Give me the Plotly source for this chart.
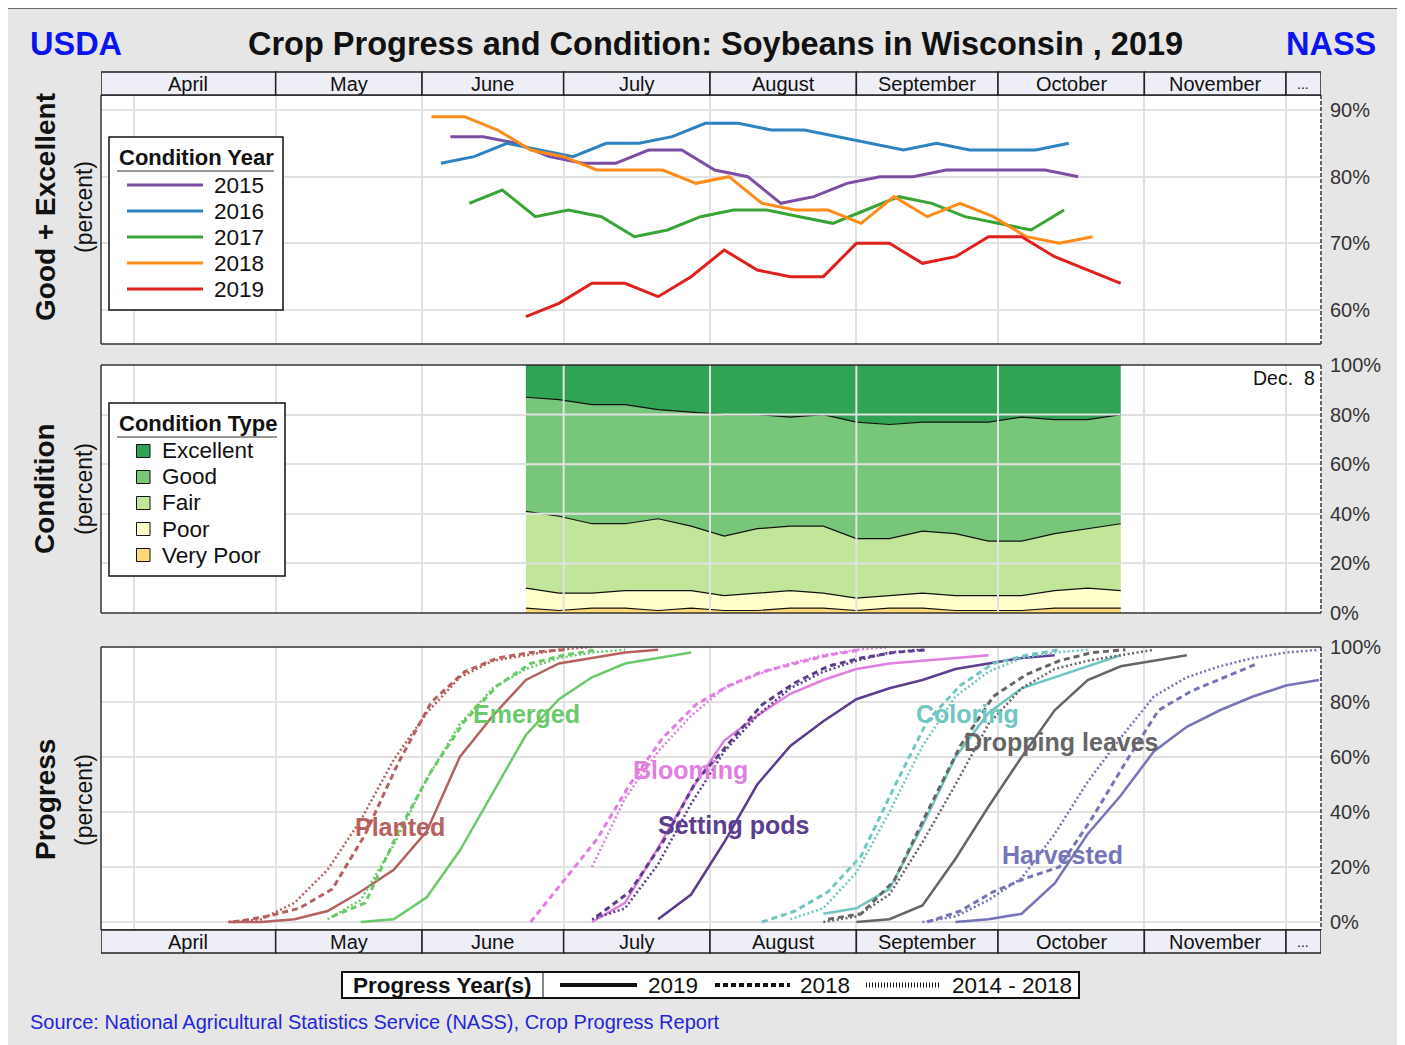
import plotly.graph_objects as go
import pandas as pd

W, H = 1405, 1045
OFF = 8  # page body margin offset compensation
FONT = "Liberation Sans, Arial, sans-serif"

# ---------------- data ----------------
MONTH_LABELS = ["April", "May", "June", "July", "August", "September", "October", "November", "..."]
MONTH_EDGES = ["2019-03-25 00:00", "2019-05-01 00:00", "2019-06-01 00:00", "2019-07-01 00:00", "2019-08-01 00:00",
               "2019-09-01 00:00", "2019-10-01 00:00", "2019-11-01 00:00", "2019-12-01 00:00", "2019-12-08 10:00"]
GRID_DATES = ["2019-04-01", "2019-05-01", "2019-06-01", "2019-07-01", "2019-08-01",
              "2019-09-01", "2019-10-01", "2019-11-01", "2019-12-01"]

GE_YEARS = ["2015", "2016", "2017", "2018", "2019"]
GE_STARTS = ["2015-06-07", "2016-06-05", "2017-06-11", "2018-06-03", "2019-06-23"]
GE_2015 = [86, 86, 85, 83, 82, 82, 84, 84, 81, 80, 76, 77, 79, 80, 80, 81, 81, 81, 81, 80]
GE_2016 = [82, 83, 85, 84, 83, 85, 85, 86, 88, 88, 87, 87, 86, 85, 84, 85, 84, 84, 84, 85]
GE_2017 = [76, 78, 74, 75, 74, 71, 72, 74, 75, 75, 74, 73, 75, 77, 76, 74, 73, 72, 75]
GE_2018 = [89, 89, 87, 84, 83, 81, 81, 81, 79, 80, 76, 75, 75, 73, 77, 74, 76, 74, 71, 70, 71]
GE_2019 = [59, 61, 64, 64, 62, 65, 69, 66, 65, 65, 70, 70, 67, 68, 71, 71, 68, 66, 64]

COND_START = "2019-06-23"
COND_TYPES = ["Excellent", "Good", "Fair", "Poor", "Very Poor"]
COND_EXCELLENT = [13, 14, 16, 16, 18, 19, 20, 20, 21, 20, 23, 24, 23, 23, 23, 21, 22, 22, 20]
COND_GOOD = [46, 47, 48, 48, 44, 46, 49, 46, 44, 45, 47, 46, 44, 45, 48, 50, 46, 44, 44]
COND_FAIR = [31, 31, 28, 27, 29, 26, 24, 26, 26, 27, 24, 23, 25, 25, 22, 22, 23, 24, 27]
COND_POOR = [8, 7, 6, 7, 8, 7, 6, 7, 7, 6, 5, 5, 6, 6, 6, 6, 7, 8, 7]
COND_VPOOR = [2, 1, 2, 2, 1, 2, 1, 1, 2, 2, 1, 2, 2, 1, 1, 1, 2, 2, 2]

STAGES = ["Planted", "Emerged", "Blooming", "Setting pods", "Coloring", "Dropping leaves", "Harvested"]
PROG_YEARS = ["2019", "2018", "2014 - 2018"]

PLANTED_2019_START, PLANTED_2019 = "2019-04-21", [0, 0, 1, 4, 11, 19, 33, 60, 75, 88, 94, 96, 98, 99]
PLANTED_2018_START, PLANTED_2018 = "2018-04-22", [0, 2, 5, 12, 32, 58, 80, 91, 96, 98, 99]
PLANTED_AVG_START, PLANTED_AVG = "2019-04-21", [0, 1, 7, 19, 37, 59, 76, 89, 95, 97, 99, 100]

EMERGED_2019_START, EMERGED_2019 = "2019-05-19", [0, 1, 9, 26, 47, 68, 81, 89, 94, 96, 98]
EMERGED_2018_START, EMERGED_2018 = "2018-05-13", [2, 7, 33, 55, 73, 86, 94, 97, 99]
EMERGED_AVG_START, EMERGED_AVG = "2019-05-12", [1, 8, 28, 52, 72, 85, 92, 96, 98, 99]

BLOOM_2019_START, BLOOM_2019 = "2019-07-07", [0, 7, 27, 48, 66, 75, 83, 88, 92, 94, 95, 96, 97]
BLOOM_2018_START, BLOOM_2018 = "2018-06-24", [0, 15, 30, 50, 67, 79, 86, 91, 94, 97, 99]
BLOOM_AVG_START, BLOOM_AVG = "2019-07-07", [20, 45, 62, 75, 85, 90, 94, 97, 99, 100]

PODS_2019_START, PODS_2019 = "2019-07-21", [1, 10, 29, 50, 64, 73, 81, 85, 88, 92, 94, 96, 97]
PODS_2018_START, PODS_2018 = "2018-07-08", [2, 11, 29, 51, 65, 79, 87, 93, 96, 98, 99]
PODS_AVG_START, PODS_AVG = "2019-07-07", [1, 5, 21, 43, 62, 75, 85, 91, 95, 98, 99]

COLOR_2019_START, COLOR_2019 = "2019-08-25", [3, 5, 12, 35, 60, 76, 85, 89, 93, 97]
COLOR_2018_START, COLOR_2018 = "2018-08-12", [0, 4, 11, 24, 49, 73, 86, 94, 97, 99]
COLOR_AVG_START, COLOR_AVG = "2019-08-18", [1, 5, 18, 40, 64, 82, 91, 96, 98, 99]

DROP_2019_START, DROP_2019 = "2019-09-01", [0, 1, 6, 23, 42, 60, 77, 88, 93, 95, 97]
DROP_2018_START, DROP_2018 = "2018-08-26", [1, 3, 15, 40, 64, 82, 90, 95, 98, 99]
DROP_AVG_START, DROP_AVG = "2019-08-25", [0, 2, 10, 29, 50, 72, 85, 92, 95, 97, 99]

HARV_2019_START, HARV_2019 = "2019-09-22", [0, 1, 3, 14, 32, 46, 62, 71, 77, 82, 86, 88]
HARV_2018_START, HARV_2018 = "2018-09-16", [0, 4, 11, 16, 20, 38, 58, 77, 84, 89, 94]
HARV_AVG_START, HARV_AVG = "2019-09-15", [0, 2, 8, 16, 32, 51, 67, 82, 89, 93, 96, 98, 99]

# ---------------- styles ----------------
GE_COLORS = ["#7b4ea3", "#2c83c0", "#3aa335", "#ff8c1a", "#e0201f"]
COND_COLORS = ["#31a354", "#78c679", "#c2e699", "#ffffcc", "#fed976"]
STAGE_COLORS = ["#b5615f", "#6bc96b", "#df7fdf", "#5c3d8e", "#70c6c0", "#666666", "#7674b8"]
LABEL_POS = [("2019-05-27 08:00", 34.5), ("2019-06-23 05:00", 75.6), ("2019-07-27 20:00", 55.3),
             ("2019-08-05 22:00", 35.3), ("2019-09-24 14:00", 75.6), ("2019-10-14 12:00", 65.5),
             ("2019-10-14 16:00", 24.4)]
GRID = "#e2e2e2"


def wk(start, n):
    d = pd.date_range(start, periods=n, freq="7D")
    return [x.replace(year=2019).strftime("%Y-%m-%d") for x in d]


def px(x):
    return (x - OFF) / W


def py(y):
    return 1 - (y - OFF) / H


def A(x, y, text, size, color="#111111", xanchor="center", yanchor="middle", xref="paper", yref="paper",
      angle=0):
    return dict(xref=xref, yref=yref, x=px(x) if xref == "paper" else x,
                y=py(y) if yref == "paper" else y, text=text, showarrow=False,
                xanchor=xanchor, yanchor=yanchor, textangle=angle, font=dict(size=size, color=color))


fig = go.Figure()

for yr, st, vals, col in zip(GE_YEARS, GE_STARTS, [GE_2015, GE_2016, GE_2017, GE_2018, GE_2019], GE_COLORS):
    fig.add_trace(go.Scatter(x=wk(st, len(vals)), y=vals, mode="lines", name=yr,
                             line=dict(color=col, width=3), xaxis="x", yaxis="y", showlegend=False))

cond_x = wk(COND_START, len(COND_EXCELLENT))
for name, vals, col in zip(COND_TYPES[::-1], [COND_VPOOR, COND_POOR, COND_FAIR, COND_GOOD, COND_EXCELLENT],
                           COND_COLORS[::-1]):
    fig.add_trace(go.Scatter(x=cond_x, y=vals, mode="lines", name=name, stackgroup="cond",
                             fillcolor=col, line=dict(color="#111111", width=1.2),
                             xaxis="x2", yaxis="y2", showlegend=False))

prog = [
    [(PLANTED_2019_START, PLANTED_2019), (PLANTED_2018_START, PLANTED_2018), (PLANTED_AVG_START, PLANTED_AVG)],
    [(EMERGED_2019_START, EMERGED_2019), (EMERGED_2018_START, EMERGED_2018), (EMERGED_AVG_START, EMERGED_AVG)],
    [(BLOOM_2019_START, BLOOM_2019), (BLOOM_2018_START, BLOOM_2018), (BLOOM_AVG_START, BLOOM_AVG)],
    [(PODS_2019_START, PODS_2019), (PODS_2018_START, PODS_2018), (PODS_AVG_START, PODS_AVG)],
    [(COLOR_2019_START, COLOR_2019), (COLOR_2018_START, COLOR_2018), (COLOR_AVG_START, COLOR_AVG)],
    [(DROP_2019_START, DROP_2019), (DROP_2018_START, DROP_2018), (DROP_AVG_START, DROP_AVG)],
    [(HARV_2019_START, HARV_2019), (HARV_2018_START, HARV_2018), (HARV_AVG_START, HARV_AVG)],
]
line_styles = [dict(width=2.5, dash="solid"), dict(width=3, dash="6px,4px"), dict(width=2.5, dash="2px,2.5px")]
for stage, col, series in zip(STAGES, STAGE_COLORS, prog):
    for (st, vals), ls, yr in zip(series[::-1], line_styles[::-1], PROG_YEARS[::-1]):
        fig.add_trace(go.Scatter(x=wk(st, len(vals)), y=vals, mode="lines", name=f"{stage} {yr}",
                                 line=dict(color=col, **ls), xaxis="x3", yaxis="y3", showlegend=False))

shapes = []
ann = []

shapes.append(dict(type="rect", xref="paper", yref="paper", x0=px(7), x1=px(1399), y0=py(1070), y1=py(8),
                   fillcolor="#e6e6e6", line=dict(color="#444444", width=1.5), layer="below"))
panels = [(95, 344), (365, 613), (647, 930)]
for (t, b) in panels:
    shapes.append(dict(type="rect", xref="paper", yref="paper", x0=px(101), x1=px(1321), y0=py(b), y1=py(t),
                       fillcolor="white", line=dict(width=0), layer="below"))

for g in GRID_DATES:
    if cond_x[0] < g < cond_x[-1]:
        shapes.append(dict(type="line", xref="x2", yref="y2", x0=g, x1=g, y0=0, y1=100,
                           line=dict(color=GRID, width=2), layer="above"))
for v in [20, 40, 60, 80]:
    shapes.append(dict(type="line", xref="x2", yref="y2", x0=cond_x[0], x1=cond_x[-1], y0=v, y1=v,
                       line=dict(color=GRID, width=2), layer="above"))

for (t, b) in panels:
    for (x0, y0, x1, y1) in [(101, t, 1321, t), (101, b, 1321, b), (101, t, 101, b)]:
        shapes.append(dict(type="line", xref="paper", yref="paper", x0=px(x0), x1=px(x1), y0=py(y0), y1=py(y1),
                           line=dict(color="#333333", width=1.5), layer="above"))
    shapes.append(dict(type="line", xref="paper", yref="paper", x0=px(1321), x1=px(1321), y0=py(t), y1=py(b),
                       line=dict(color="#333333", width=1.5, dash="4px,2px"), layer="above"))

edges = pd.to_datetime(MONTH_EDGES, format="%Y-%m-%d %H:%M")
for (t, b) in [(72, 95), (930, 953)]:
    for i, lab in enumerate(MONTH_LABELS):
        shapes.append(dict(type="rect", xref="x", yref="paper", x0=MONTH_EDGES[i], x1=MONTH_EDGES[i + 1],
                           y0=py(b), y1=py(t), fillcolor="#eeeef6", line=dict(color="#222222", width=1.5),
                           layer="above"))
        mid = edges[i] + (edges[i + 1] - edges[i]) / 2
        ann.append(A(mid.strftime("%Y-%m-%d %H:%M"), (t + b) / 2 + 0.5, lab, 20 if lab != "..." else 14,
                     xref="x"))

ann.append(A(715.5, 44, "<b>Crop Progress and Condition: Soybeans in Wisconsin , 2019</b>", 32.5))
ann.append(A(28, 44, "<b>USDA</b>", 32.5, color="#0a14f0", xanchor="left"))
ann.append(A(1378, 44, "<b>NASS</b>", 32.5, color="#0a14f0", xanchor="right"))
ann.append(A(28, 1022, "Source: National Agricultural Statistics Service (NASS), Crop Progress Report", 20,
             color="#2424d8", xanchor="left"))

for (main, cy) in [("Good + Excellent", 207), ("Condition", 489), ("Progress", 800)]:
    ann.append(A(45, cy, f"<b>{main}</b>", 28, angle=-90))
    ann.append(A(84, cy, "(percent)", 23, angle=-90))

ann.append(A(1317, 378, "Dec.  8", 19.5, xanchor="right"))

for stage, col, (lx, ly) in zip(STAGES, STAGE_COLORS, LABEL_POS):
    ann.append(A(lx, ly, f"<b>{stage}</b>", 25, color=col, xref="x3", yref="y3"))

# Condition Year legend
shapes.append(dict(type="rect", xref="paper", yref="paper", x0=px(109), x1=px(283), y0=py(310), y1=py(137),
                   fillcolor="white", line=dict(color="#111111", width=1.5), layer="above"))
ann.append(A(117, 158, "<b>Condition Year</b>", 22, xanchor="left"))
shapes.append(dict(type="line", xref="paper", yref="paper", x0=px(117), x1=px(274), y0=py(171), y1=py(171),
                   line=dict(color="#333333", width=1), layer="above"))
for i, (yr, col) in enumerate(zip(GE_YEARS, GE_COLORS)):
    yy = 185 + 26 * i
    shapes.append(dict(type="line", xref="paper", yref="paper", x0=px(127), x1=px(203), y0=py(yy), y1=py(yy),
                       line=dict(color=col, width=3), layer="above"))
    ann.append(A(212, yy, yr, 22.5, xanchor="left"))

# Condition Type legend
shapes.append(dict(type="rect", xref="paper", yref="paper", x0=px(109), x1=px(285), y0=py(576), y1=py(403),
                   fillcolor="white", line=dict(color="#111111", width=1.5), layer="above"))
ann.append(A(117, 424, "<b>Condition Type</b>", 22, xanchor="left"))
shapes.append(dict(type="line", xref="paper", yref="paper", x0=px(117), x1=px(277), y0=py(437), y1=py(437),
                   line=dict(color="#333333", width=1), layer="above"))
for i, (nm, col) in enumerate(zip(COND_TYPES, COND_COLORS)):
    yy = 451 + 26 * i
    shapes.append(dict(type="rect", xref="paper", yref="paper", x0=px(136.5), x1=px(150), y0=py(yy + 6.5),
                       y1=py(yy - 6.5), fillcolor=col, line=dict(color="#111111", width=1), layer="above"))
    ann.append(A(160, yy, nm, 22.5, xanchor="left"))

# Progress Year(s) legend
shapes.append(dict(type="rect", xref="paper", yref="paper", x0=px(342), x1=px(1079), y0=py(998), y1=py(972),
                   fillcolor="white", line=dict(color="#111111", width=2), layer="above"))
shapes.append(dict(type="line", xref="paper", yref="paper", x0=px(543), x1=px(543), y0=py(998), y1=py(972),
                   line=dict(color="#111111", width=1), layer="above"))
ann.append(A(442, 985.5, "<b>Progress Year(s)</b>", 22.5))
leg_styles = [dict(width=4, dash="solid"), dict(width=4, dash="5px,3px"), dict(width=5, dash="1px,2px")]
for (x0, x1, tx), yr, ls in zip([(560, 637, 646), (715, 790, 798), (866, 940, 950)], PROG_YEARS, leg_styles):
    shapes.append(dict(type="line", xref="paper", yref="paper", x0=px(x0), x1=px(x1), y0=py(985), y1=py(985),
                       line=dict(color="#111111", **ls), layer="above"))
    ann.append(A(tx, 985.5, yr, 22.5, xanchor="left"))

xcommon = dict(domain=[px(101), px(1321)], range=[MONTH_EDGES[0], MONTH_EDGES[-1]], type="date",
               tickvals=GRID_DATES, showticklabels=False, showgrid=True, gridcolor=GRID, gridwidth=2,
               zeroline=False, showline=False, ticks="")
ycommon = dict(side="right", showgrid=True, gridcolor=GRID, gridwidth=2, zeroline=False, showline=False,
               ticks="", ticklabelstandoff=8, tickfont=dict(size=20, color="#333333"))


def pct(vals):
    return [f"{v}%" for v in vals]


fig.update_layout(
    width=W, height=H, margin=dict(l=0, r=0, t=0, b=0, autoexpand=False),
    paper_bgcolor="white", plot_bgcolor="white",
    font=dict(family=FONT, color="#111111"),
    showlegend=False,
    xaxis=dict(anchor="y", **xcommon),
    xaxis2=dict(anchor="y2", **xcommon),
    xaxis3=dict(anchor="y3", **xcommon),
    yaxis=dict(anchor="x", domain=[py(344), py(95)], range=[54.9, 92.25], tickvals=[60, 70, 80, 90],
               ticktext=pct([60, 70, 80, 90]), **ycommon),
    yaxis2=dict(anchor="x2", domain=[py(613), py(365)], range=[0, 100], tickvals=[0, 20, 40, 60, 80, 100],
                ticktext=pct([0, 20, 40, 60, 80, 100]), **ycommon),
    yaxis3=dict(anchor="x3", domain=[py(930), py(647)], range=[-2.9, 100], tickvals=[0, 20, 40, 60, 80, 100],
                ticktext=pct([0, 20, 40, 60, 80, 100]), **ycommon),
    shapes=shapes, annotations=ann,
)

fig.write_html("out.html")
